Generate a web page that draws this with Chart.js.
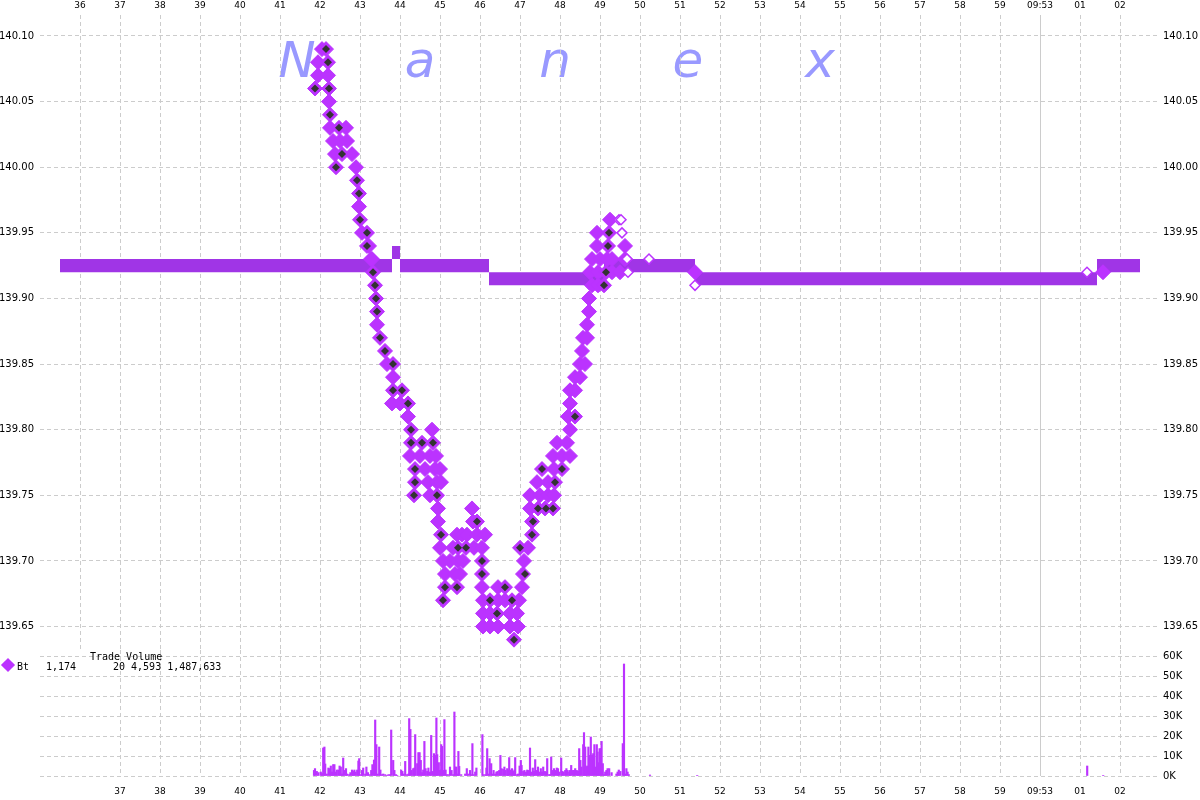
<!DOCTYPE html>
<html>
<head>
<meta charset="utf-8">
<script src="https://cdn.jsdelivr.net/npm/chart.js@4.4.1/dist/chart.umd.min.js"></script>
<style>
  body { margin:0; background:#fff; width:1200px; height:800px; overflow:hidden; position:relative; font-family:'DejaVu Sans',sans-serif; }
  .wm { position:absolute; top:35px; font:italic 50px/50px 'DejaVu Sans'; color:#9999ff; transform:translateX(-50%); }
  #priceChart { position:absolute; left:0; top:0; }
  #volChart { position:absolute; left:0; top:650px; }
  .leg { position:absolute; font:10px/10px 'DejaVu Sans Mono',monospace; color:#000; white-space:pre; }
  .legMark { position:absolute; left:3px; top:660px; width:10px; height:10px; background:#bb33ff; transform:rotate(45deg); }
</style>
</head>
<body>
<span class="wm" style="left:297px">N</span>
<span class="wm" style="left:420px">a</span>
<span class="wm" style="left:555px">n</span>
<span class="wm" style="left:688px">e</span>
<span class="wm" style="left:820px">x</span>

<canvas id="priceChart" width="1200" height="652"></canvas>
<canvas id="volChart" width="1200" height="150"></canvas>

<div class="legMark"></div>
<span class="leg" style="left:17px;top:662px">Bt</span>
<span class="leg" style="left:46px;top:662px">1,174</span>
<span class="leg" style="left:90px;top:652px">Trade Volume</span>
<span class="leg" style="left:113px;top:662px">20 4,593 1,487,633</span>

<script>
// seconds past 09:52 (60 = 09:53:00)
const secTicks = [36,37,38,39,40,41,42,43,44,45,46,47,48,49,50,51,52,53,54,55,56,57,58,59,60,61,62];
const secLabels = ['36','37','38','39','40','41','42','43','44','45','46','47','48','49','50','51','52','53','54','55','56','57','58','59','09:53','01','02'];
const priceTicks = [139.65,139.70,139.75,139.80,139.85,139.90,139.95,140.00,140.05,140.10];
const volTicks = [0,10,20,30,40,50,60];

// NBBO band (bid / ask), value holds until next change
const bandTimes = [35.5, 43.8, 44.0, 46.225, 49.1, 51.375, 61.425, 62.5];
const askPx     = [139.93, 139.94, 139.93, 139.92, 139.93, 139.92, 139.93, 139.93];
const bidPx     = [139.92, 139.93, 139.92, 139.91, 139.92, 139.91, 139.92, 139.92];

// trades: one price row -> times of trades at that price
const tradePx = [140.09,140.08,140.07,140.06,140.05,140.04,140.03,140.02,140.01,140.00,
  139.99,139.98,139.97,139.96,139.95,139.94,139.93,139.92,139.91,139.90,
  139.89,139.88,139.87,139.86,139.85,139.84,139.83,139.82,139.81,139.80,
  139.79,139.78,139.77,139.76,139.75,139.74,139.73,139.72,139.71,139.70,
  139.69,139.68,139.67,139.66,139.65,139.64];
const tradeAt = [
  [42.05,42.15],[41.95,42.2],[41.95,42.2],[41.875,42.225],[42.225],[42.25],
  [42.25,42.475,42.65],[42.325,42.5,42.675],[42.375,42.55,42.8],[42.4,42.9],
  [42.925],[42.975],[42.975],[43.0,49.25],[43.05,43.175,48.925,49.225],
  [43.175,43.225,48.925,49.2,49.625],[43.275,43.3,48.8,49.0,49.175,49.3,49.625],
  [43.325,48.75,48.95,49.15,49.3,49.5,51.375,61.575],[43.375,48.8,48.95,49.1],[43.4,48.725],
  [43.425,48.725],[43.425,48.675],[43.5,48.575,48.675],[43.625,48.55],[43.675,43.825,48.5,48.625],
  [43.825,48.375,48.5],[43.825,44.05,48.25,48.375],[43.8,44.0,44.2,48.25],[44.2,48.2,48.375],[44.275,44.8,48.25],
  [44.275,44.55,44.825,47.925,48.175],[44.25,44.5,44.75,44.9,47.825,48.05,48.25],
  [44.375,44.625,44.875,45.0,47.55,47.85,48.05],[44.375,44.7,44.925,45.025,47.425,47.7,47.875],
  [44.35,44.75,44.925,47.25,47.5,47.7,47.85],[44.95,45.8,47.25,47.45,47.625,47.825],
  [44.95,45.825,45.925,47.3],[45.025,45.425,45.55,45.675,45.925,46.125,47.3],
  [45.0,45.325,45.45,45.65,45.85,46.05,47.0,47.2],[45.075,45.25,45.45,45.575,46.05,47.1],
  [45.125,45.375,45.5,46.05,47.075],[45.125,45.425,46.05,46.45,46.625,47.05],
  [45.075,46.075,46.25,46.45,46.625,46.8,46.975],[46.075,46.25,46.425,46.75,46.925],
  [46.075,46.25,46.45,46.75,46.95],[46.85]
];

// trades drawn with a dark centre
const darkPx = [140.09,140.08,140.06,140.04,140.03,140.01,140.00,139.99,139.98,139.96,
  139.95,139.94,139.92,139.91,139.90,139.89,139.87,139.86,139.85,139.83,
  139.82,139.81,139.80,139.79,139.77,139.76,139.75,139.74,139.73,139.72,
  139.71,139.70,139.69,139.68,139.67,139.66,139.64];
const darkAt = [
  [42.15],[42.2],[41.875,42.225],[42.25],[42.475],[42.55],[42.4],[42.925],[42.975],[43.0],
  [43.175,49.225],[43.175,49.2],[43.325,49.15],[43.375,49.1],[43.4],[43.425],[43.5],[43.625],[43.825],[43.825,44.05],
  [44.2],[48.375],[44.275],[44.275,44.55,44.825],[44.375,47.55,48.05],[44.375,47.875],[44.35,44.925],[47.45,47.65,47.825],[45.925,47.325],[45.025,47.3],
  [45.45,45.65,47.0],[46.05],[46.05,47.125],[45.125,45.425,46.625],[45.075,46.25,46.8],[46.425],[46.85]
];

// hollow (open) trade markers
const hollowAt = [49.475, 49.525, 49.55, 49.675, 50.225, 49.7, 51.375, 61.175];
const hollowPx = [139.96, 139.96, 139.95, 139.93, 139.93, 139.92, 139.91, 139.92];

// trade volume (thousands of shares)
const volTimes = [
  41.85,41.875,41.92,41.96,42.02,42.05,42.08,42.11,42.13,42.17,
  42.21,42.24,42.27,42.30,42.33,42.36,42.39,42.42,42.46,42.49,
  42.52,42.55,42.58,42.61,42.65,42.68,42.73,42.76,42.80,42.83,
  42.86,42.89,42.93,42.96,42.98,43.02,43.05,43.08,43.13,43.16,
  43.20,43.24,43.28,43.31,43.35,43.38,43.41,43.44,43.48,43.51,
  43.54,43.58,43.63,43.67,43.71,43.75,43.78,43.83,43.86,43.90,
  43.93,44.03,44.06,44.09,44.13,44.17,44.21,44.23,44.26,44.29,
  44.33,44.36,44.38,44.43,44.46,44.49,44.52,44.55,44.58,44.61,
  44.64,44.68,44.71,44.75,44.78,44.82,44.85,44.88,44.91,44.93,
  44.97,45.00,45.03,45.05,45.08,45.11,45.14,45.17,45.21,45.25,
  45.29,45.33,45.36,45.38,45.41,45.43,45.46,45.48,45.53,45.63,
  45.67,45.70,45.75,45.78,45.81,45.84,45.88,45.91,46.06,46.08,
  46.13,46.16,46.18,46.22,46.24,46.28,46.31,46.34,46.38,46.41,
  46.44,46.48,46.51,46.54,46.58,46.61,46.64,46.68,46.70,46.73,
  46.77,46.80,46.83,46.86,46.88,46.92,46.95,46.99,47.02,47.04,
  47.08,47.11,47.15,47.18,47.22,47.25,47.28,47.32,47.35,47.38,
  47.42,47.45,47.48,47.52,47.55,47.58,47.62,47.65,47.68,47.72,
  47.75,47.78,47.82,47.85,47.88,47.92,47.95,47.98,48.03,48.06,
  48.09,48.13,48.16,48.19,48.23,48.25,48.28,48.32,48.35,48.38,
  48.42,48.45,48.48,48.51,48.54,48.58,48.60,48.63,48.65,48.68,
  48.71,48.74,48.77,48.80,48.83,48.86,48.89,48.92,48.94,48.97,
  48.99,49.02,49.04,49.07,49.10,49.13,49.16,49.19,49.23,49.29,
  49.41,49.44,49.47,49.51,49.57,49.60,49.63,49.66,49.69,49.72,
  50.25,51.43,61.18,61.58
];
const volK = [
  2.8,3.7,2.3,1.7,2,1.2,14,14.5,6,1,
  4,3.7,5,2,5.7,5.7,2,3,3,5,
  4.5,1,9,2.8,3.7,1,0.7,1.7,3,2.3,
  3,2,3,7.5,8.7,0.7,2.8,4,1,4.5,
  1.7,0.7,2.8,5.7,8,28,15.7,1,14.5,3,
  0.7,1,0.7,0.3,0.7,0.7,23,7.8,2.8,0.7,
  0.3,3,2.3,1,7.3,0.7,1,28.7,23.3,2.8,
  3.7,4,20.7,6.2,11.7,11.7,7.8,1.7,3,17.3,
  3.7,2.3,4,2,20.3,2.3,11.2,10.3,29,10.7,
  6.7,2.8,15.7,14.8,2.8,28.2,3,0.7,0.7,4.5,
  2.8,0.7,32,4.5,4.5,1,12.3,4.8,0.7,1,
  3.7,1,2.8,0.7,16.2,0.7,2,4,20.7,0.7,
  0.7,4,13.7,1,8.7,6.2,1,2.8,1,2,
  2.3,2.8,10.3,3.7,3.3,4.5,2.8,3.7,3,9.2,
  3,3.7,2.3,3,9.2,0.7,1,5,7.8,5.3,
  2.3,2.8,2,3,2.8,14,2,4,2.3,8.2,
  2.8,4.5,2,3.7,2,4.5,2.3,2,8.7,0.7,
  0.7,9.5,2.8,3.7,2.8,4,3.7,2,9,2.3,
  2,2.8,3.7,2.8,2,2.8,5.3,2.8,2.8,3.7,
  2.8,2.3,13.7,7.8,4.5,15.7,21.7,14.5,4.5,5,
  14.5,10.3,19.5,10.3,11.2,15.7,4.5,15.7,12,6.7,
  13.7,13.7,17.3,6.2,0.7,2,2.8,3.7,3.7,1.7,
  1,2,3,2.3,16.2,56,1,3.7,2,0.7,
  0.5,0.3,5,0.3
];

const PURPLE = '#bb33ff';
const BAND = '#a035e6';
const GRID = '#cccccc';
const gridDash = [4, 3];
const tickFont = { family: 'DejaVu Sans', size: 10 };
const timeFont = { family: 'DejaVu Sans', size: 9 };

function rowsToPoints(prices, times) {
  const pts = [];
  prices.forEach((p, i) => times[i].forEach(t => pts.push({ x: t, y: p })));
  return pts;
}
const timeLabel = v => { const i = secTicks.indexOf(v); return i < 0 ? '' : secLabels[i]; };

// fixed axis sizes, no extra label padding around the plot
const fixW = w => s => { s.width = w; s.paddingTop = 0; s.paddingBottom = 0; };
const fixH = h => s => { s.height = h; s.paddingLeft = 0; s.paddingRight = 0; };

// solid line at the minute boundary (09:53)
const minuteLine = {
  id: 'minuteLine',
  beforeDatasetsDraw(chart) {
    const x = Math.round(chart.scales.x.getPixelForValue(60)) + 0.5;
    const a = chart.chartArea, ctx = chart.ctx;
    ctx.save();
    ctx.strokeStyle = GRID; ctx.lineWidth = 1;
    ctx.beginPath(); ctx.moveTo(x, a.top); ctx.lineTo(x, a.bottom); ctx.stroke();
    ctx.restore();
  }
};

const priceMin = 139.6306, priceMax = 140.116;

new Chart(document.getElementById('priceChart'), {
  type: 'scatter',
  data: {
    datasets: [
      { label: 'ask', type: 'line', data: bandTimes.map((t, i) => ({ x: t, y: askPx[i] })),
        stepped: true, borderColor: 'rgba(0,0,0,0)', borderWidth: 0, pointRadius: 0, fill: false, order: 6 },
      { label: 'bid', type: 'line', data: bandTimes.map((t, i) => ({ x: t, y: bidPx[i] })),
        stepped: true, borderColor: 'rgba(0,0,0,0)', borderWidth: 0, pointRadius: 0, fill: '-1', backgroundColor: BAND, order: 5 },
      { label: 'Bt', data: rowsToPoints(tradePx, tradeAt), pointStyle: 'rectRot', pointRadius: 7.5,
        backgroundColor: PURPLE, borderColor: PURPLE, borderWidth: 1, order: 3 },
      { label: 'open', data: hollowAt.map((t, i) => ({ x: t, y: hollowPx[i] })), pointStyle: 'rectRot', pointRadius: 5,
        backgroundColor: '#ffffff', borderColor: PURPLE, borderWidth: 1.5, order: 2 },
      { label: 'dark', data: rowsToPoints(darkPx, darkAt), pointStyle: 'rectRot', pointRadius: 4,
        backgroundColor: '#333333', borderColor: '#333333', borderWidth: 0, order: 1 }
    ]
  },
  options: {
    responsive: false, animation: false, events: [],
    layout: { padding: 0, autoPadding: false },
    plugins: { legend: { display: false }, tooltip: { enabled: false } },
    scales: {
      x: {
        type: 'linear', position: 'top', min: 35, max: 63,
        afterBuildTicks: s => { s.ticks = secTicks.map(v => ({ value: v })); },
        afterFit: fixH(15),
        grid: { color: GRID, drawTicks: false },
        border: { display: false, dash: gridDash },
        ticks: { padding: 4, autoSkip: false, maxRotation: 0, color: '#000', font: timeFont, callback: timeLabel }
      },
      y: {
        position: 'left', min: priceMin, max: priceMax,
        afterBuildTicks: s => { s.ticks = priceTicks.map(v => ({ value: v })); },
        afterFit: fixW(40),
        grid: { color: GRID, drawTicks: false },
        border: { display: false, dash: gridDash },
        ticks: { padding: 6, color: '#000', font: tickFont, callback: v => v.toFixed(2) }
      },
      y2: {
        position: 'right', min: priceMin, max: priceMax,
        afterBuildTicks: s => { s.ticks = priceTicks.map(v => ({ value: v })); },
        afterFit: fixW(40),
        grid: { drawOnChartArea: false, drawTicks: false },
        border: { display: false },
        ticks: { padding: 3, color: '#000', font: tickFont, callback: v => v.toFixed(2) }
      }
    }
  },
  plugins: [minuteLine]
});

new Chart(document.getElementById('volChart'), {
  type: 'bar',
  data: {
    datasets: [{
      label: 'Trade Volume',
      data: volTimes.map((t, i) => ({ x: t, y: volK[i] })),
      backgroundColor: PURPLE, barThickness: 1.5, grouped: false
    }]
  },
  options: {
    responsive: false, animation: false, events: [],
    layout: { padding: { left: 40 }, autoPadding: false },
    plugins: { legend: { display: false }, tooltip: { enabled: false } },
    scales: {
      x: {
        type: 'linear', position: 'bottom', min: 35, max: 63, offset: false,
        afterBuildTicks: s => { s.ticks = secTicks.slice(1).map(v => ({ value: v })); },
        afterFit: fixH(24),
        grid: { color: GRID, drawTicks: false, offset: false },
        border: { display: false, dash: gridDash },
        ticks: { padding: 10, autoSkip: false, maxRotation: 0, color: '#000', font: timeFont, callback: timeLabel }
      },
      y: {
        position: 'right', min: 0, max: 63,
        afterBuildTicks: s => { s.ticks = volTicks.map(v => ({ value: v })); },
        afterFit: fixW(40),
        grid: { color: GRID, drawTicks: false },
        border: { display: false, dash: gridDash },
        ticks: { padding: 3, color: '#000', font: tickFont, callback: v => v + 'K' }
      }
    }
  },
  plugins: [minuteLine]
});
</script>
</body>
</html>
